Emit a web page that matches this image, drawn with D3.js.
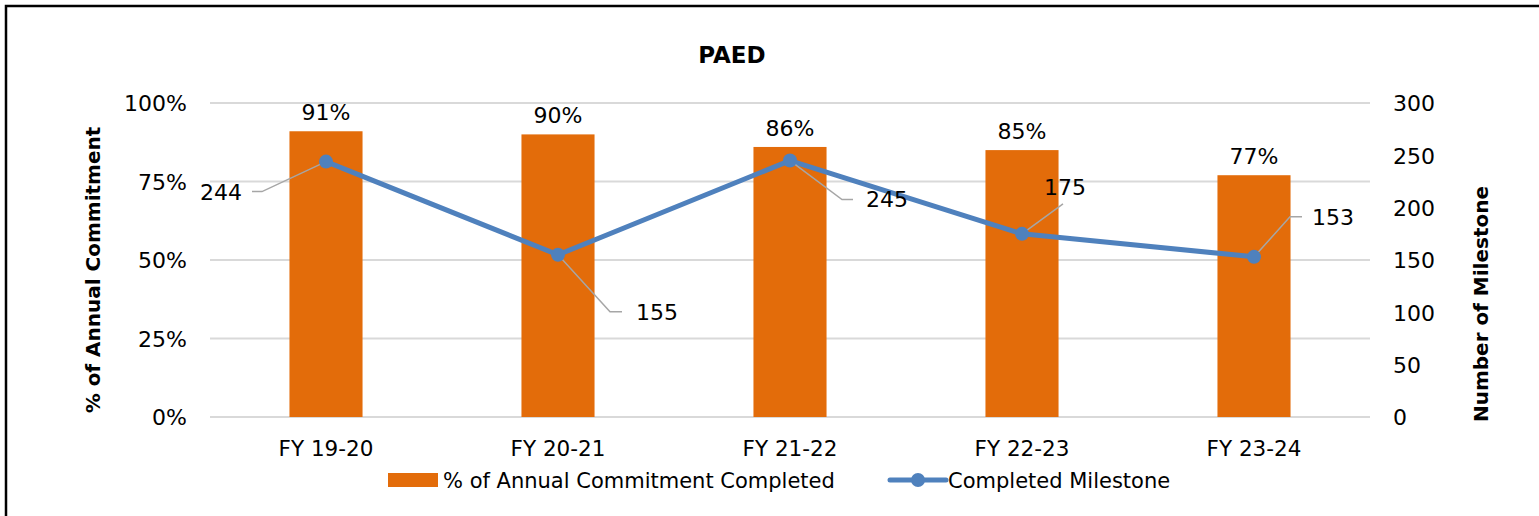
<!DOCTYPE html>
<html>
<head>
<meta charset="utf-8">
<script src="https://cdn.jsdelivr.net/npm/d3@7"></script>
<style>
  body { margin: 0; background: #fff; }
  svg { display: block; font-family: "DejaVu Sans", sans-serif; }
</style>
</head>
<body>
<div id="chart"></div>
<script>
//// Data
const categories = ["FY 19-20", "FY 20-21", "FY 21-22", "FY 22-23", "FY 23-24"]
const pct_completed = [0.91, 0.90, 0.86, 0.85, 0.77]
const milestones = [244, 155, 245, 175, 153]
const pct_ticks = [0, 0.25, 0.5, 0.75, 1]
const count_ticks = [0, 50, 100, 150, 200, 250, 300]

const BAR_COLOR = "#e36c0a"
const LINE_COLOR = "#4f81bd"
const GRID_COLOR = "#d9d9d9"
const LEADER_COLOR = "#a6a6a6"

// Where Excel put the milestone labels, relative to each point (px)
// elbow = end of the diagonal leader, tail = length of horizontal part
const label_layout = [
    {dx: -64, dy: 30, tail: -10, anchor: "end", tx: -10, ty: 0},
    {dx: 52, dy: 57, tail: 12, anchor: "start", tx: 14, ty: 0},
    {dx: 52, dy: 39, tail: 11, anchor: "start", tx: 13, ty: 0},
    {dx: 41, dy: -30, tail: 0, anchor: "middle", tx: 2, ty: -17},
    {dx: 36, dy: -40, tail: 12, anchor: "start", tx: 10, ty: 0}
]

const W = 1539, H = 516
const plot = {left: 210, right: 1370, top: 103, bottom: 417}

const svg = d3.select("#chart")
    .append("svg")
        .attr("width", W)
        .attr("height", H)

// Frame (only left and top edges fall inside the picture)
svg.append("rect")
    .attr("x", 6).attr("y", 6)
    .attr("width", W + 20).attr("height", H + 20)
    .attr("fill", "none")
    .attr("stroke", "#000")
    .attr("stroke-width", 2.5)

// Scales
const x = d3.scaleBand()
    .domain(categories)
    .range([plot.left, plot.right])
    .paddingInner(0.685)
    .paddingOuter(0.3425)

const y = d3.scaleLinear()
    .domain([0, 1])
    .range([plot.bottom, plot.top])

const y2 = d3.scaleLinear()
    .domain([0, 300])
    .range([plot.bottom, plot.top])

// Gridlines
svg.append("g")
    .selectAll("line")
        .data(pct_ticks)
        .enter()
        .append("line")
            .attr("x1", plot.left)
            .attr("x2", plot.right)
            .attr("y1", d => y(d))
            .attr("y2", d => y(d))
            .attr("stroke", GRID_COLOR)
            .attr("stroke-width", 2)

// Left axis
const left_axis = svg.append("g")
    .attr("transform", "translate(" + (plot.left - 23) + ",0)")
    .call(d3.axisLeft(y).tickValues(pct_ticks).tickFormat(d3.format(".0%")).tickSize(0).tickPadding(0))
left_axis.select(".domain").remove()
left_axis.selectAll("text")
    .attr("font-family", "DejaVu Sans")
    .attr("font-size", 22)
    .attr("fill", "#000")
    .attr("dy", "0.36em")

// Right axis
const right_axis = svg.append("g")
    .attr("transform", "translate(" + (plot.right + 23) + ",0)")
    .call(d3.axisRight(y2).tickValues(count_ticks).tickSize(0).tickPadding(0))
right_axis.select(".domain").remove()
right_axis.selectAll("text")
    .attr("font-family", "DejaVu Sans")
    .attr("font-size", 22)
    .attr("fill", "#000")
    .attr("dy", "0.36em")

// Bottom axis
const bottom_axis = svg.append("g")
    .attr("transform", "translate(0," + plot.bottom + ")")
    .call(d3.axisBottom(x).tickSize(0).tickPadding(0))
bottom_axis.select(".domain").remove()
bottom_axis.selectAll("text")
    .attr("font-family", "DejaVu Sans")
    .attr("font-size", 21.5)
    .attr("fill", "#000")
    .attr("dy", "1.8em")

// Bars
svg.append("g")
    .selectAll("rect")
        .data(pct_completed)
        .enter()
        .append("rect")
            .attr("x", (d, i) => x(categories[i]))
            .attr("y", d => y(d))
            .attr("width", x.bandwidth())
            .attr("height", d => plot.bottom - y(d))
            .attr("fill", BAR_COLOR)

// Bar labels
svg.append("g")
    .selectAll("text")
        .data(pct_completed)
        .enter()
        .append("text")
            .attr("x", (d, i) => x(categories[i]) + x.bandwidth() / 2)
            .attr("y", d => y(d) - 11)
            .attr("text-anchor", "middle")
            .attr("font-size", 22)
            .text(d => d3.format(".0%")(d))

// Line
const cx = i => x(categories[i]) + x.bandwidth() / 2
const line = d3.line()
    .x((d, i) => cx(i))
    .y(d => y2(d))

svg.append("path")
    .attr("d", line(milestones))
    .attr("fill", "none")
    .attr("stroke", LINE_COLOR)
    .attr("stroke-width", 5)
    .attr("stroke-linejoin", "round")

// Leader lines for milestone labels
svg.append("g")
    .selectAll("polyline")
        .data(milestones)
        .enter()
        .append("polyline")
            .attr("points", (d, i) => {
                const l = label_layout[i]
                const px = cx(i), py = y2(d)
                return [[px, py], [px + l.dx, py + l.dy], [px + l.dx + l.tail, py + l.dy]].join(" ")
            })
            .attr("fill", "none")
            .attr("stroke", LEADER_COLOR)
            .attr("stroke-width", 1.5)

// Markers
svg.append("g")
    .selectAll("circle")
        .data(milestones)
        .enter()
        .append("circle")
            .attr("cx", (d, i) => cx(i))
            .attr("cy", d => y2(d))
            .attr("r", 7)
            .attr("fill", LINE_COLOR)

// Milestone labels
svg.append("g")
    .selectAll("text")
        .data(milestones)
        .enter()
        .append("text")
            .attr("x", (d, i) => cx(i) + label_layout[i].dx + label_layout[i].tail + label_layout[i].tx)
            .attr("y", (d, i) => y2(d) + label_layout[i].dy + label_layout[i].ty)
            .attr("dy", "0.36em")
            .attr("text-anchor", (d, i) => label_layout[i].anchor)
            .attr("font-size", 22)
            .text(d => d)

// Title
svg.append("text")
    .attr("x", 732)
    .attr("y", 63)
    .attr("text-anchor", "middle")
    .attr("font-size", 23)
    .attr("font-weight", "bold")
    .text("PAED")

// Axis titles
svg.append("text")
    .attr("transform", "translate(100,270) rotate(-90)")
    .attr("text-anchor", "middle")
    .attr("font-size", 20)
    .attr("font-weight", "bold")
    .text("% of Annual Commitment")

svg.append("text")
    .attr("transform", "translate(1488,304) rotate(-90)")
    .attr("text-anchor", "middle")
    .attr("font-size", 20)
    .attr("font-weight", "bold")
    .text("Number of Milestone")

// Legend
const legend = svg.append("g")
    .attr("transform", "translate(0,480)")

legend.append("rect")
    .attr("x", 388).attr("y", -7)
    .attr("width", 50).attr("height", 14)
    .attr("fill", BAR_COLOR)

legend.append("text")
    .attr("x", 443).attr("y", 0)
    .attr("dy", "0.36em")
    .attr("font-size", 21)
    .text("% of Annual Commitment Completed")

legend.append("line")
    .attr("x1", 890).attr("x2", 946)
    .attr("y1", 0).attr("y2", 0)
    .attr("stroke", LINE_COLOR)
    .attr("stroke-width", 5)
    .attr("stroke-linecap", "round")

legend.append("circle")
    .attr("cx", 918).attr("cy", 0)
    .attr("r", 7)
    .attr("fill", LINE_COLOR)

legend.append("text")
    .attr("x", 948).attr("y", 0)
    .attr("dy", "0.36em")
    .attr("font-size", 21)
    .text("Completed Milestone")
</script>
</body>
</html>
